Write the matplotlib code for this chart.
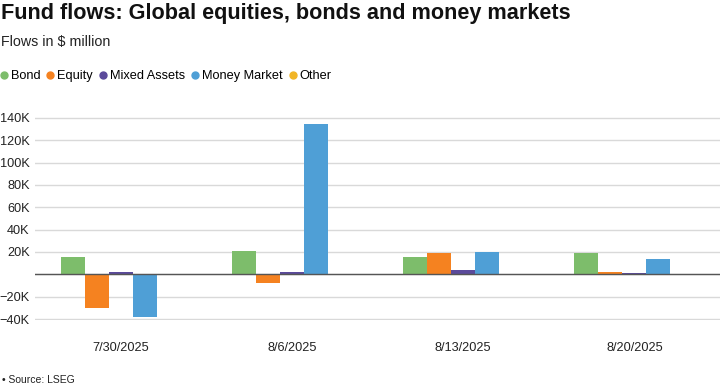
import matplotlib
matplotlib.use("Agg")
import matplotlib.pyplot as plt
import numpy as np
from matplotlib.lines import Line2D
from matplotlib.ticker import FuncFormatter

plt.rcParams['font.family'] = ['Liberation Sans', 'DejaVu Sans']

dates = ["7/30/2025", "8/6/2025", "8/13/2025", "8/20/2025"]
series_names = ["Bond", "Equity", "Mixed Assets", "Money Market", "Other"]
bond = [15500, 20900, 15800, 18800]
equity = [-30000, -7500, 19400, 2000]
mixed = [1800, 2000, 3600, 1600]
money_market = [-38000, 134600, 20300, 13700]
other = [0, 0, 600, 0]
colors = ["#7dbd6b", "#f58220", "#5b4a9b", "#4f9fd6", "#f1b526"]

values = [bond, equity, mixed, money_market, other]

fig = plt.figure(figsize=(7.2, 3.89), dpi=100)
y0, y1 = -41000, 141000
px_per = (319 - 118) / 180000
bottom_px = 319 + 1000 * px_per
top_px = 118 - 1000 * px_per
ax = fig.add_axes([0.049, 1 - bottom_px / 389, 0.951, (bottom_px - top_px) / 389])

x = np.arange(len(dates))
w = 0.14
for i, (vals, c) in enumerate(zip(values, colors)):
    ax.bar(x + (i - 2) * w, vals, width=w, color=c, zorder=3)

ax.set_xlim(-0.5, len(dates) - 0.5)
ax.set_ylim(y0, y1)
ax.set_yticks(np.arange(-40000, 140001, 20000))
ax.yaxis.set_major_formatter(FuncFormatter(lambda v, p: "" if v == 0 else f"{int(v/1000)}K".replace("-", "\u2212")))
ax.grid(axis='y', color='#d9d9d9', linewidth=1, zorder=0)
ax.axhline(0, color='#555555', linewidth=1, zorder=4)
for s in ax.spines.values():
    s.set_visible(False)
ax.tick_params(axis='both', length=0, labelsize=9.2, colors='#222222')
ax.tick_params(axis='y', pad=4)
ax.tick_params(axis='x', pad=16)
ax.set_xticks(x)
ax.set_xticklabels(dates)

fig.text(0.001, 1 - 13 / 389, "Fund flows: Global equities, bonds and money markets",
         fontsize=15.6, fontweight='bold', color='#111111', va='center')
fig.text(0.001, 1 - 42 / 389, "Flows in $ million", fontsize=10.3, color='#222222', va='center')
fig.text(0.003, 1 - 380 / 389, "\u2022 Source: LSEG", fontsize=7.5, color='#222222', va='center')

handles = [Line2D([0], [0], marker='o', linestyle='none', markersize=5,
                  markerfacecolor=c, markeredgecolor=c) for c in colors]
fig.legend(handles, series_names, loc='center left', bbox_to_anchor=(0.0, 1 - 76 / 389),
           ncol=5, frameon=False, fontsize=9.2, handletextpad=0.25,
           columnspacing=0.48, handlelength=0.6, borderaxespad=0, borderpad=0)

fig.savefig("out.png", dpi=100)
